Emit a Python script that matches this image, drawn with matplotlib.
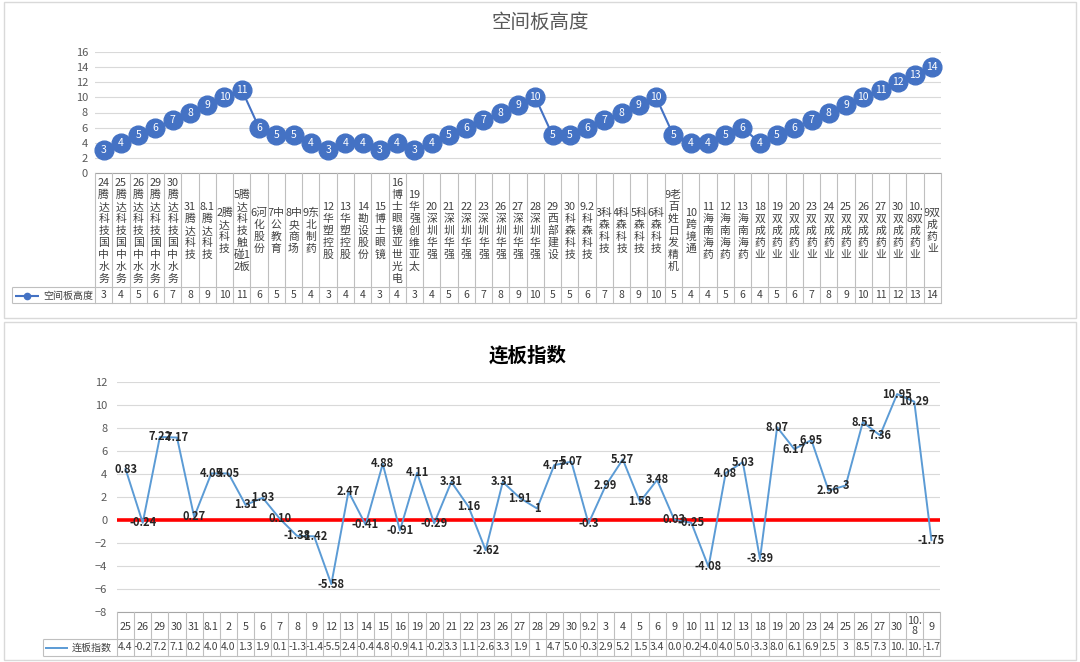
import matplotlib
matplotlib.use('Agg')
import matplotlib.pyplot as plt
from matplotlib.transforms import blended_transform_factory
from matplotlib.lines import Line2D
from matplotlib.patches import Rectangle

plt.rcParams['font.family'] = ['Noto Sans CJK SC', 'DejaVu Sans']

# ---------------- data ----------------
height_categories = [
    "24腾达科技国中水务", "25腾达科技国中水务", "26腾达科技国中水务", "29腾达科技国中水务",
    "30腾达科技国中水务", "31腾达科技", "8.1腾达科技", "2腾达科技", "5腾达科技触碰12板",
    "6河化股份", "7中公教育", "8中央商场", "9东北制药", "12华塑控股", "13华塑控股",
    "14勘设股份", "15博士眼镜", "16博士眼镜亚世光电", "19华强创维亚太", "20深圳华强",
    "21深圳华强", "22深圳华强", "23深圳华强", "26深圳华强", "27深圳华强", "28深圳华强",
    "29西部建设", "30科森科技", "9.2科森科技", "3科森科技", "4科森科技", "5科森科技",
    "6科森科技", "9老百姓日发精机", "10跨境通", "11海南海药", "12海南海药", "13海南海药",
    "18双成药业", "19双成药业", "20双成药业", "23双成药业", "24双成药业", "25双成药业",
    "26双成药业", "27双成药业", "30双成药业", "10.8双成药业", "9双成药业",
]
height_values = [3, 4, 5, 6, 7, 8, 9, 10, 11, 6, 5, 5, 4, 3, 4, 4, 3, 4, 3, 4, 5, 6, 7, 8,
                 9, 10, 5, 5, 6, 7, 8, 9, 10, 5, 4, 4, 5, 6, 4, 5, 6, 7, 8, 9, 10, 11, 12,
                 13, 14]

index_categories = ["25", "26", "29", "30", "31", "8.1", "2", "5", "6", "7", "8", "9", "12",
                    "13", "14", "15", "16", "19", "20", "21", "22", "23", "26", "27", "28",
                    "29", "30", "9.2", "3", "4", "5", "6", "9", "10", "11", "12", "13", "18",
                    "19", "20", "23", "24", "25", "26", "27", "30", "10.8", "9"]
index_values = [4.43, -0.24, 7.22, 7.17, 0.27, 4.05, 4.05, 1.31, 1.93, 0.10, -1.38, -1.42,
                -5.58, 2.47, -0.41, 4.88, -0.91, 4.11, -0.29, 3.31, 1.16, -2.62, 3.31, 1.91,
                1, 4.77, 5.07, -0.3, 2.99, 5.27, 1.58, 3.48, 0.03, -0.25, -4.08, 4.08, 5.03,
                -3.39, 8.07, 6.17, 6.95, 2.56, 3, 8.51, 7.36, 10.95, 10.29, -1.75]
index_labels = ["0.83", "-0.24", "7.22", "7.17", "0.27", "4.05", "4.05", "1.31", "1.93",
                "0.10", "-1.38", "-1.42", "-5.58", "2.47", "-0.41", "4.88", "-0.91", "4.11",
                "-0.29", "3.31", "1.16", "-2.62", "3.31", "1.91", "1", "4.77", "5.07", "-0.3",
                "2.99", "5.27", "1.58", "3.48", "0.03", "-0.25", "-4.08", "4.08", "5.03",
                "-3.39", "8.07", "6.17", "6.95", "2.56", "3", "8.51", "7.36", "10.95",
                "10.29", "-1.75"]

height_title = "空间板高度"
index_title = "连板指数"
height_yticks = list(range(0, 17, 2))
index_yticks = list(range(-8, 13, 2))

# ---------------- helpers ----------------
W, H = 1080, 662
fig = plt.figure(figsize=(W / 100, H / 100), dpi=100)
fig.patch.set_facecolor('white')

GRID = '#D9D9D9'
TBL = '#BFBFBF'
TXT = '#404040'
AXT = '#595959'


def fx(px):
    return px / W


def fy(py):
    return 1 - py / H


def char_w(ch):
    if ch == '.':
        return 0.5
    if ch == '-':
        return 0.6
    return 1.0 if ch.isascii() else 2.0


def wrap(s, budget=3.0):
    lines, cur, w = [], '', 0.0
    for ch in s:
        cw = char_w(ch)
        if cur and w + cw > budget:
            lines.append(cur)
            cur, w = ch, cw
        else:
            cur += ch
            w += cw
    lines.append(cur)
    return lines


def truncate(s, budget=3.2):
    out, w = '', 0.0
    for ch in s:
        cw = char_w(ch)
        if w + cw > budget:
            break
        out += ch
        w += cw
    return out


def fline(x0, y0, x1, y1, color=TBL, lw=0.8):
    fig.add_artist(Line2D([fx(x0), fx(x1)], [fy(y0), fy(y1)], transform=fig.transFigure,
                          color=color, lw=lw, solid_capstyle='butt'))


def draw_table(ax, cats, vals_text, left_px, right_px, top_px, mid_px, bot_px, leg_left_px,
               pitch):
    n = len(cats)
    tr = blended_transform_factory(ax.transData, fig.transFigure)
    fline(left_px, top_px, right_px, top_px, color='#A6A6A6')
    fline(leg_left_px, mid_px, right_px, mid_px)
    fline(leg_left_px, bot_px, right_px, bot_px)
    fline(leg_left_px, mid_px, leg_left_px, bot_px)
    for i in range(n + 1):
        x = i - 0.5
        fig.add_artist(Line2D([x, x], [fy(top_px), fy(bot_px)], transform=tr,
                              color=TBL, lw=0.8))
    center = (top_px + mid_px) / 2 + 1
    for i, (c, v) in enumerate(zip(cats, vals_text)):
        lines = wrap(c)
        m = len(lines)
        for k, ln in enumerate(lines):
            y = center + (k - (m - 1) / 2) * pitch
            ax.text(i, fy(y), ln, transform=tr, ha='center', va='center',
                    fontsize=7.8, color=TXT)
        ax.text(i, fy((mid_px + bot_px) / 2), v, transform=tr, ha='center', va='center',
                fontsize=7.5, color=TXT)


# ---------------- panel frames ----------------
fig.add_artist(Rectangle((fx(4), fy(318)), fx(1076) - fx(4), (318 - 2) / H,
                         transform=fig.transFigure, fill=False, edgecolor=GRID, lw=1))
fig.add_artist(Rectangle((fx(4), fy(660)), fx(1076) - fx(4), (660 - 322) / H,
                         transform=fig.transFigure, fill=False, edgecolor=GRID, lw=1))

# ---------------- top chart ----------------
L1, R1, T1, B1 = 95, 941, 52, 173
ax1 = fig.add_axes([fx(L1), fy(B1), fx(R1) - fx(L1), (B1 - T1) / H])
n1 = len(height_values)
x1 = list(range(n1))
ax1.set_xlim(-0.5, n1 - 0.5)
ax1.set_ylim(0, 16)
ax1.set_yticks(height_yticks)
ax1.set_xticks([])
for s in ax1.spines.values():
    s.set_visible(False)
ax1.tick_params(axis='y', length=0, pad=5, labelsize=8, labelcolor=AXT)
ax1.yaxis.grid(True, color=GRID, lw=0.8)
ax1.set_axisbelow(True)
ax1.plot(x1, height_values, color='#4472C4', lw=1.5, marker='o', markersize=13.5,
         markerfacecolor='#4472C4', markeredgecolor='#4472C4', zorder=3, clip_on=False)
for i, v in enumerate(height_values):
    ax1.text(i, v, str(v), ha='center', va='center', color='white', fontsize=7.5,
             zorder=4, clip_on=False)
fig.text(0.5, fy(22), height_title, ha='center', va='center', fontsize=14, color=AXT)

draw_table(ax1, height_categories, [str(v) for v in height_values], L1, R1, B1, 287, 303, 12,
           12.0)
fline(15, 295.5, 39, 295.5, color='#4472C4', lw=1.5)
fig.add_artist(Line2D([fx(27)], [fy(295.5)], transform=fig.transFigure, marker='o',
                      markersize=4.5, color='#4472C4'))
fig.text(fx(43), fy(295.5), height_title, ha='left', va='center', fontsize=7.2, color=TXT)

# ---------------- bottom chart ----------------
L2, R2, T2, B2 = 117, 940, 382, 612
ax2 = fig.add_axes([fx(L2), fy(B2), fx(R2) - fx(L2), (B2 - T2) / H])
n2 = len(index_values)
x2 = list(range(n2))
ax2.set_xlim(-0.5, n2 - 0.5)
ax2.set_ylim(-8, 12)
ax2.set_yticks(index_yticks)
ax2.set_xticks([])
for s in ax2.spines.values():
    s.set_visible(False)
ax2.tick_params(axis='y', length=0, pad=7, labelsize=8, labelcolor=AXT)
ax2.yaxis.grid(True, color=GRID, lw=0.8)
ax2.set_axisbelow(True)
ax2.axhline(0, color='#FF0000', lw=2.6, zorder=2)
ax2.plot(x2, index_values, color='#5B9BD5', lw=1.4, zorder=3)
for i, (v, lab) in enumerate(zip(index_values, index_labels)):
    ax2.text(i, v, lab, ha='center', va='center', fontsize=8, fontweight='bold',
             color='#262626', zorder=4, clip_on=False)
fig.text(fx(528), fy(356), index_title, ha='center', va='center', fontsize=14,
         fontweight='bold', color='black')

draw_table(ax2, index_categories, [truncate('%g' % v) for v in index_values], L2, R2, B2,
           639, 656, 43, 10.0)
fline(45, 647.5, 68, 647.5, color='#5B9BD5', lw=1.4)
fig.text(fx(72), fy(647.5), index_title, ha='left', va='center', fontsize=7.2, color=TXT)

fig.savefig('out.png', dpi=100)
